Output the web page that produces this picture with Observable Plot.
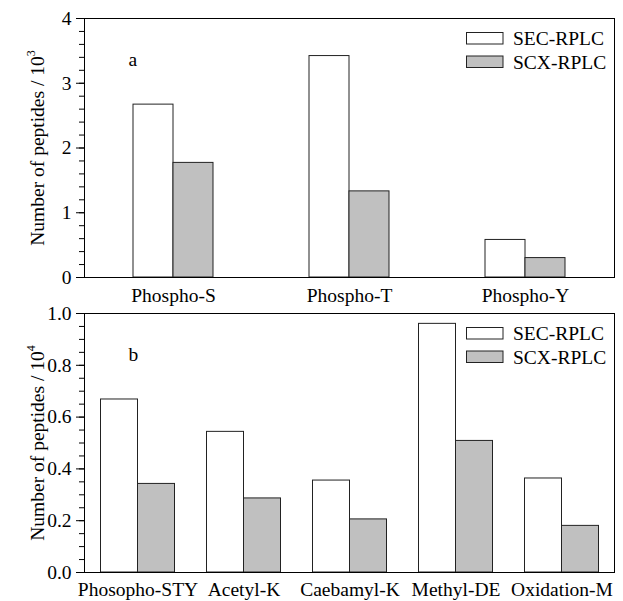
<!DOCTYPE html>
<html>
<head>
<meta charset="utf-8">
<script src="https://cdn.jsdelivr.net/npm/d3@7"></script>
<script src="https://cdn.jsdelivr.net/npm/@observablehq/plot@0.6"></script>
<style>
  html, body { margin: 0; padding: 0; background: #fff; }
  #chart { width: 623px; }
  #chart svg { display: block; overflow: visible; }
</style>
</head>
<body>
<div id="chart"></div>
<script>
// Panel a: phosphorylation sites (counts / 10^3)
const phosphoSites = ["Phospho-S", "Phospho-T", "Phospho-Y"];
const phosphoSEC = [2.67, 3.42, 0.58];
const phosphoSCX = [1.77, 1.33, 0.30];
const phosphoTicks = [0, 1, 2, 3, 4];

// Panel b: modification types (counts / 10^4)
const modTypes = ["Phosopho-STY", "Acetyl-K", "Caebamyl-K", "Methyl-DE", "Oxidation-M"];
const modSEC = [0.668, 0.543, 0.355, 0.960, 0.363];
const modSCX = [0.342, 0.286, 0.205, 0.508, 0.180];
const modTicks = [0, 0.2, 0.4, 0.6, 0.8, 1.0];

const seriesNames = ["SEC-RPLC", "SCX-RPLC"];
const seriesFill = ["#ffffff", "#c0c0c0"];

const FONT = "'Liberation Serif', 'Times New Roman', serif";

function panel({cats, sec, scx, ticks, minorStep, fmt, exponent, tag, height, marginTop, marginBottom, barWidth, xPad}) {
  const rows = cats.map((c, i) => ({cat: c, sec: sec[i], scx: scx[i]}));
  const step = 530 / cats.length;
  const pad = 1 - barWidth / step;
  const yMax = ticks[ticks.length - 1];
  const minor = d3.range(0, Math.round(yMax / minorStep) + 1).map(k => k * minorStep);

  const svg = Plot.plot({
    width: 623,
    height,
    marginLeft: 84,
    marginRight: 9,
    marginTop,
    marginBottom,
    style: {fontFamily: FONT, fontSize: "19.5px", color: "#000", background: "transparent", overflow: "visible"},
    x: {domain: cats, paddingInner: pad, paddingOuter: pad / 2, label: null},
    y: {domain: [0, yMax], label: null},
    marks: [
      Plot.barY(rows, {x: "cat", y: "sec", fill: seriesFill[0], stroke: "#222", strokeWidth: 1, dx: -barWidth / 2}),
      Plot.barY(rows, {x: "cat", y: "scx", fill: seriesFill[1], stroke: "#222", strokeWidth: 1, dx: barWidth / 2}),
      Plot.frame({stroke: "#000", strokeWidth: 1}),
      Plot.axisX({tickSize: 0, tickPadding: xPad, label: null}),
      Plot.axisY({ticks: minor, tickSize: 5, tickFormat: () => "", label: null}),
      Plot.axisY({ticks, tickSize: 8, tickPadding: 5, tickFormat: fmt,
        label: "Number of peptides / 10", labelAnchor: "center", labelArrow: "none", labelOffset: 54}),
      Plot.text([tag], {frameAnchor: "top-left", dx: 44, dy: 41, lineAnchor: "middle"})
    ]
  });

  // superscript exponent on the y-axis title
  d3.select(svg).selectAll("text").filter(function () {
    return this.textContent === "Number of peptides / 10";
  }).append("tspan").attr("font-size", 12).attr("dy", "-0.75em").text(exponent);

  // legend in the upper right of the frame
  const lg = d3.select(svg).append("g")
    .attr("font-family", FONT).attr("font-size", 19.5).attr("text-anchor", "start");
  seriesNames.forEach((name, i) => {
    const y0 = marginTop + 14 + i * 23.5;
    lg.append("rect").attr("x", 466.5).attr("y", y0 + 0.5).attr("width", 36.5).attr("height", 11.5)
      .attr("fill", seriesFill[i]).attr("stroke", "#222");
    lg.append("text").attr("x", 513).attr("y", y0 + 6.5).attr("dy", "0.35em").attr("fill", "#000").text(name);
  });
  return svg;
}

const root = document.getElementById("chart");
root.append(panel({
  cats: phosphoSites, sec: phosphoSEC, scx: phosphoSCX, ticks: phosphoTicks,
  minorStep: 0.2, fmt: d3.format("d"), exponent: "3", tag: "a",
  height: 300, marginTop: 18, marginBottom: 23, barWidth: 40, xPad: 11
}));
root.append(panel({
  cats: modTypes, sec: modSEC, scx: modSCX, ticks: modTicks,
  minorStep: 0.05, fmt: d3.format(".1f"), exponent: "4", tag: "b",
  height: 301, marginTop: 13, marginBottom: 29, barWidth: 37, xPad: 9.5
}));
</script>
</body>
</html>
